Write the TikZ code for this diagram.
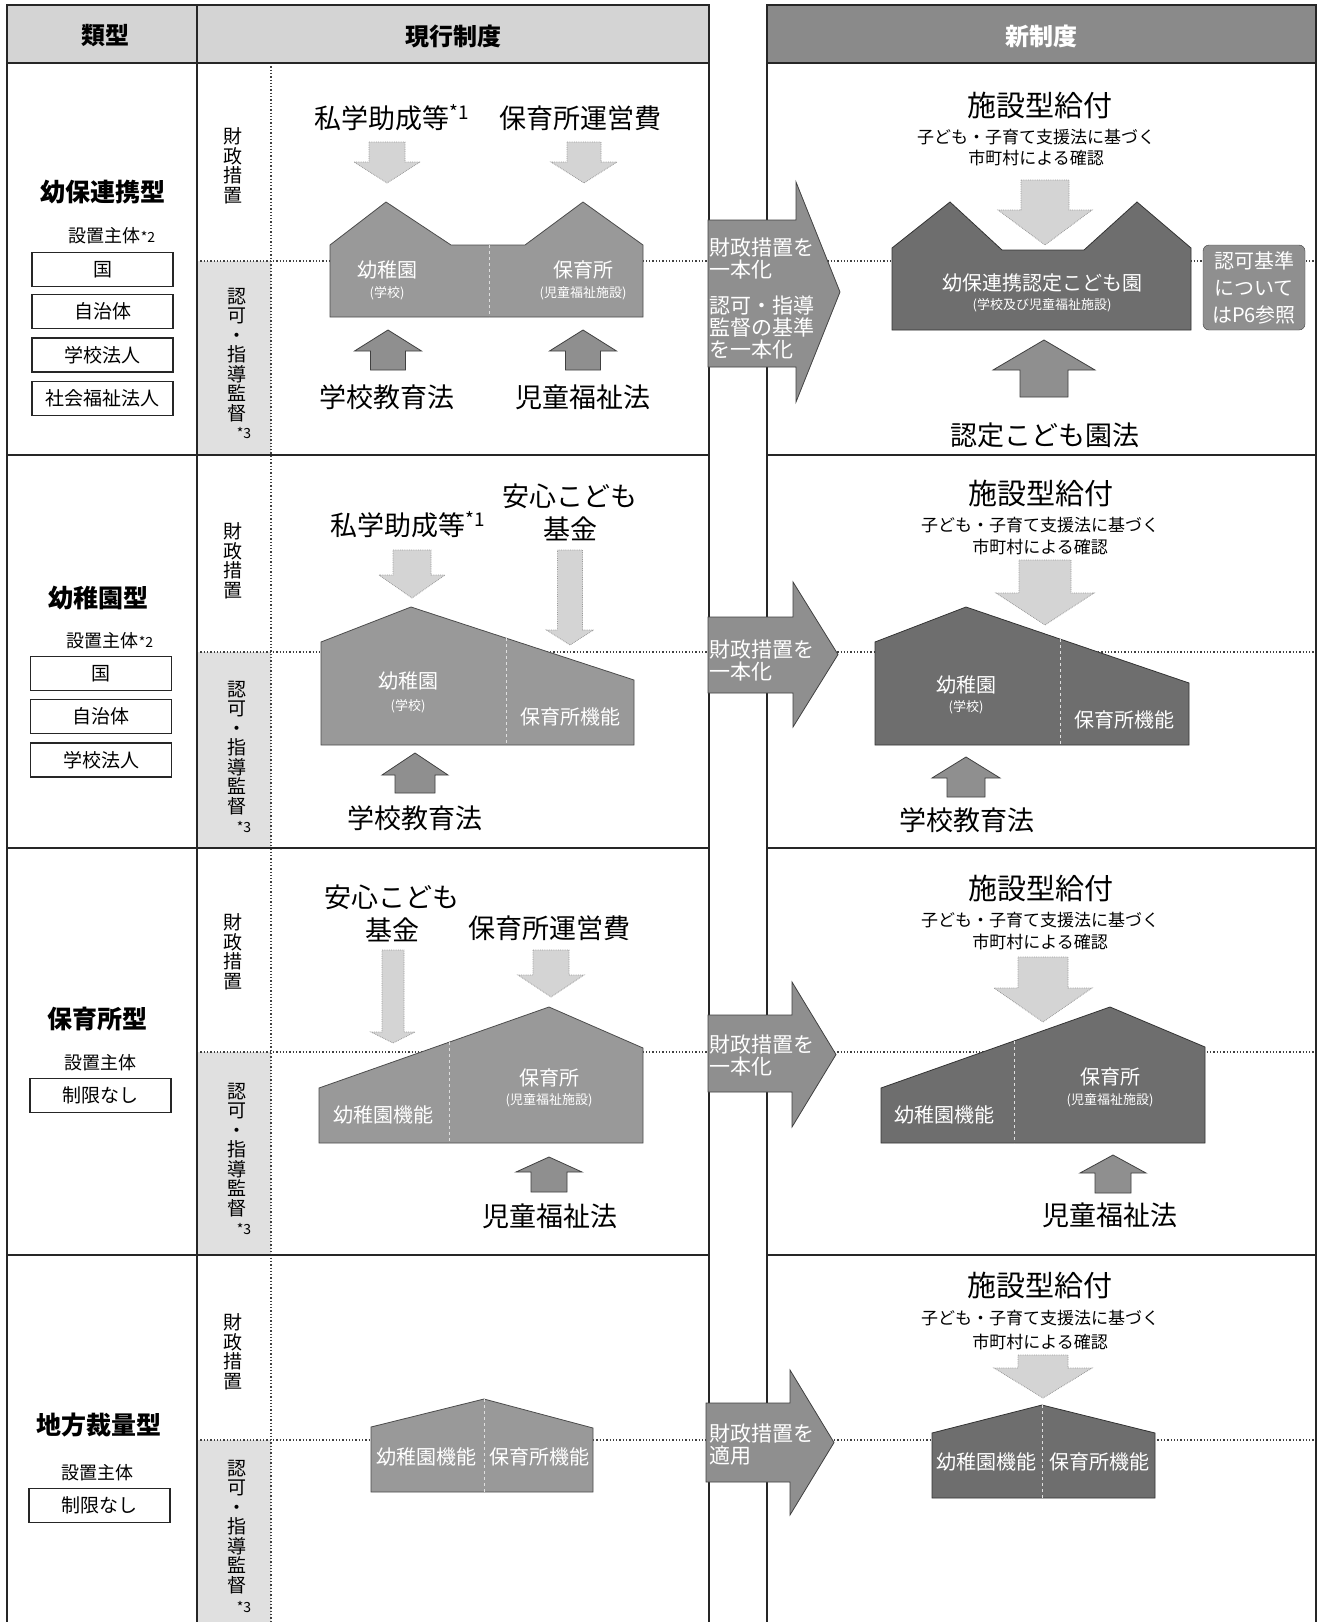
\documentclass[tikz,border=0pt]{standalone}
\usepackage{fontspec}
\setmainfont{Noto Sans CJK JP}
\newcommand{\VArr}[7]{\draw[#1] (#2-#6,#3) -- (#2+#6,#3) -- (#2+#6,#4) -- (#2+#7,#4) -- (#2,#5) -- (#2-#7,#4) -- (#2-#6,#4) -- cycle;}
\newcommand{\HArr}[8]{\draw[#1] (#2,#3) -- (#5,#3) -- (#5,#6) -- (#8,{(#6+#7)/2}) -- (#5,#7) -- (#5,#4) -- (#2,#4) -- cycle;}
\begin{document}
\begin{tikzpicture}[x=1pt,y=-1pt,
  xframe/.style={draw=black!85, line width=1.6},
  xsep/.style={draw=black!75, dotted, line width=1.3},
  curhouse/.style={fill=black!40, draw=black!70, line width=0.8},
  newhouse/.style={fill=black!57, draw=black!80, line width=0.8},
  xdiv/.style={draw=white!75!gray, dashed, line width=1},
  darr/.style={fill=black!17, draw=black!40, densely dotted, line width=0.8},
  uarr/.style={fill=black!44, draw=black!75, line width=0.8},
  rarr/.style={fill=black!44, draw=black!75, line width=0.8},
  xhdr/.style={font=\bfseries\fontsize{24}{28}\selectfont},
  xtype/.style={font=\bfseries\fontsize{25}{29}\selectfont},
  xsub/.style={font=\fontsize{18}{22}\selectfont},
  xent/.style={draw=black!85, line width=1.3, minimum width=141, minimum height=34, inner sep=0, font=\fontsize{19}{22}\selectfont},
  xvert/.style={align=center, inner sep=0, font=\fontsize{19}{19.5}\selectfont},
  xstar/.style={inner sep=0, font=\fontsize{14}{16}\selectfont},
  xbig/.style={inner sep=0, align=center, font=\fontsize{27}{33}\selectfont},
  xbene/.style={inner sep=0, font=\fontsize{29}{33}\selectfont},
  xnote/.style={inner sep=0, font=\fontsize{17}{20}\selectfont},
  hlab/.style={inner sep=0, text=white, font=\fontsize{20}{22}\selectfont},
  hsm/.style={inner sep=0, text=white, font=\fontsize{13}{15}\selectfont},
  alab/.style={inner sep=0, anchor=west, align=left, text=white, font=\fontsize{21}{22}\selectfont}
]
\useasboundingbox (0,0) rectangle (1318,1622);
\fill[white] (0,0) rectangle (1318,1622);
% header fills
\fill[black!17] (7,5) rectangle (709,63);
\fill[black!46] (767,5) rectangle (1316,63);
% ninka cells
\foreach \a/\b in {261/455,652/848,1052/1255,1440/1622} \fill[black!12] (197,\a) rectangle (271,\b);
% dotted separators
\foreach \y in {261,652,1052,1440} \draw[xsep] (197,\y) -- (1316,\y);
\draw[xsep] (271,63) -- (271,1622);
% frames
\draw[xframe] (7,1622) -- (7,5) -- (709,5) -- (709,1622);
\draw[xframe] (767,1622) -- (767,5) -- (1316,5) -- (1316,1622);
\draw[xframe] (197,5) -- (197,1622);
\foreach \y in {63,455,848,1255} {\draw[xframe] (7,\y) -- (709,\y); \draw[xframe] (767,\y) -- (1316,\y);}

% headers
\node[xhdr] (h1) at (105,36) {類型};
\node[xhdr] (h2) at (453,36) {現行制度};
\node[xhdr, text=white] (h3) at (1041,36) {新制度};

% ===== left column =====
\node[xtype] (t1) at (103,192) {幼保連携型};
\node[xsub] (s1) at (112,236) {設置主体{\fontsize{14}{16}\selectfont *2}};
\node[xent] (e11) at (102.5,269.5) {国};
\node[xent] (e12) at (102.5,311.5) {自治体};
\node[xent] (e13) at (102.5,355) {学校法人};
\node[xent] (e14) at (102.5,398.5) {社会福祉法人};

\node[xtype] (t2) at (98,598) {幼稚園型};
\node[xsub] (s2) at (110,641) {設置主体{\fontsize{14}{16}\selectfont *2}};
\node[xent] (e21) at (101,673.5) {国};
\node[xent] (e22) at (101,716.5) {自治体};
\node[xent] (e23) at (101,760) {学校法人};

\node[xtype] (t3) at (97,1019) {保育所型};
\node[xsub] (s3) at (100,1063) {設置主体};
\node[xent] (e31) at (100.5,1095.5) {制限なし};

\node[xtype] (t4) at (99,1425) {地方裁量型};
\node[xsub] (s4) at (97,1473) {設置主体};
\node[xent] (e41) at (99.5,1505.5) {制限なし};

% vertical labels
\node[xvert] (f1) at (233,166) {財\\政\\措\\置};
\node[xvert] (n1) at (237,355) {認\\可\\・\\指\\導\\監\\督};
\node[xstar] (k1) at (244,433) {*3};
\node[xvert] (f2) at (233,561) {財\\政\\措\\置};
\node[xvert] (n2) at (237,748) {認\\可\\・\\指\\導\\監\\督};
\node[xstar] (k2) at (244,827) {*3};
\node[xvert] (f3) at (233,952) {財\\政\\措\\置};
\node[xvert] (n3) at (237,1150) {認\\可\\・\\指\\導\\監\\督};
\node[xstar] (k3) at (244,1229) {*3};
\node[xvert] (f4) at (233,1352) {財\\政\\措\\置};
\node[xvert] (n4) at (237,1527) {認\\可\\・\\指\\導\\監\\督};
\node[xstar] (k4) at (244,1607) {*3};

% ===== row 1 current =====
\node[xbig] (r1a) at (392,118) {私学助成等\textsuperscript{*1}};
\node[xbig] (r1b) at (580,118) {保育所運営費};
\VArr{darr}{387}{142}{162}{183}{18}{33}
\VArr{darr}{584}{142}{162}{183}{17}{33}
\draw[curhouse] (330,317) -- (330,245) -- (386,202) -- (451,245) -- (525,245) -- (583,202) -- (643,245) -- (643,317) -- cycle;
\draw[xdiv] (489,245) -- (489,317);
\node[hlab] (r1h1) at (387,270) {幼稚園};
\node[hsm] (r1h2) at (387,293) {(学校)};
\node[hlab] (r1h3) at (583,270) {保育所};
\node[hsm] (r1h4) at (583,293) {(児童福祉施設)};
\VArr{uarr}{388}{370}{351}{330}{17.5}{33.5}
\VArr{uarr}{583}{370}{351}{330}{17.5}{33.5}
\node[xbig] (r1c) at (387,397) {学校教育法};
\node[xbig] (r1d) at (583,397) {児童福祉法};

% ===== row 1 arrow + new =====
\HArr{rarr}{708}{220}{367}{796}{182}{402}{840}
\node[alab] (a1a) at (709,259) {財政措置を\\一本化};
\node[alab] (a1b) at (709,327) {認可・指導\\監督の基準\\を一本化};
\node[xbene] (b1) at (1040,105) {施設型給付};
\node[xnote] (b1a) at (1036,137) {子ども・子育て支援法に基づく};
\node[xnote] (b1b) at (1036,158) {市町村による確認};
\VArr{darr}{1045}{180}{210}{245}{24}{47}
\draw[newhouse] (892,330) -- (892,248) -- (950,202) -- (1002,250) -- (1084,250) -- (1137,202) -- (1191,248) -- (1191,330) -- cycle;
\node[hlab] (r1n1) at (1042,283) {幼保連携認定こども園};
\node[hsm] (r1n2) at (1042,305) {(学校及び児童福祉施設)};
\node[draw=black!75, fill=black!44, rounded corners=6, minimum width=102, minimum height=85, inner sep=0, align=center, text=white, font=\fontsize{20}{27}\selectfont] (kb) at (1254,287.5) {認可基準\\について\\はP6参照};
\VArr{uarr}{1044}{397}{370}{340}{24}{51}
\node[xbig] (r1e) at (1045,435) {認定こども園法};

% ===== row 2 current =====
\node[xbig] (r2a) at (408,525) {私学助成等\textsuperscript{*1}};
\node[xbig] (r2b) at (570,512) {安心こども\\基金};
\VArr{darr}{412}{550}{575}{598}{19}{33}
\VArr{darr}{570}{550}{630}{645}{12.5}{23.5}
\draw[curhouse] (321,745) -- (321,642) -- (411,607) -- (634,680) -- (634,745) -- cycle;
\draw[xdiv] (506,638) -- (506,745);
\node[hlab] (r2h1) at (408,681) {幼稚園};
\node[hsm] (r2h2) at (408,706) {(学校)};
\node[hlab] (r2h3) at (570,717) {保育所機能};
\VArr{uarr}{415}{793}{775}{753}{20}{33}
\node[xbig] (r2c) at (415,818) {学校教育法};

% ===== row 2 arrow + new =====
\HArr{rarr}{708}{617}{693}{793}{582}{727}{838}
\node[alab] (a2a) at (709,661) {財政措置を\\一本化};
\node[xbene] (b2) at (1041,493) {施設型給付};
\node[xnote] (b2a) at (1040,525) {子ども・子育て支援法に基づく};
\node[xnote] (b2b) at (1040,547) {市町村による確認};
\VArr{darr}{1045}{560}{593}{625}{26}{49}
\draw[newhouse] (875,745) -- (875,642) -- (966,607) -- (1189,683) -- (1189,745) -- cycle;
\draw[xdiv] (1060,639) -- (1060,745);
\node[hlab] (r2n1) at (966,685) {幼稚園};
\node[hsm] (r2n2) at (966,707) {(学校)};
\node[hlab] (r2n3) at (1124,720) {保育所機能};
\VArr{uarr}{966}{797}{778}{757}{19}{34}
\node[xbig] (r2e) at (967,820) {学校教育法};

% ===== row 3 current =====
\node[xbig] (r3a) at (392,913) {安心こども\\基金};
\node[xbig] (r3b) at (549,928) {保育所運営費};
\VArr{darr}{393}{950}{1032}{1043}{11}{22}
\VArr{darr}{551}{950}{975}{997}{18}{33}
\draw[curhouse] (319,1143) -- (319,1088) -- (549,1007) -- (643,1048) -- (643,1143) -- cycle;
\draw[xdiv] (449,1042) -- (449,1143);
\node[hlab] (r3h1) at (383,1115) {幼稚園機能};
\node[hlab] (r3h2) at (549,1078) {保育所};
\node[hsm] (r3h3) at (549,1100) {(児童福祉施設)};
\VArr{uarr}{549}{1192}{1172}{1157}{18}{33}
\node[xbig] (r3c) at (550,1216) {児童福祉法};

% ===== row 3 arrow + new =====
\HArr{rarr}{708}{1015}{1092}{792}{982}{1127}{836}
\node[alab] (a3a) at (709,1056) {財政措置を\\一本化};
\node[xbene] (b3) at (1041,888) {施設型給付};
\node[xnote] (b3a) at (1040,920) {子ども・子育て支援法に基づく};
\node[xnote] (b3b) at (1040,942) {市町村による確認};
\VArr{darr}{1043}{957}{988}{1022}{25}{49}
\draw[newhouse] (881,1143) -- (881,1088) -- (1110,1007) -- (1205,1047) -- (1205,1143) -- cycle;
\draw[xdiv] (1014,1041) -- (1014,1143);
\node[hlab] (r3n1) at (944,1115) {幼稚園機能};
\node[hlab] (r3n2) at (1110,1077) {保育所};
\node[hsm] (r3n3) at (1110,1100) {(児童福祉施設)};
\VArr{uarr}{1113}{1193}{1173}{1155}{18}{33}
\node[xbig] (r3e) at (1110,1215) {児童福祉法};

% ===== row 4 current =====
\draw[curhouse] (371,1492) -- (371,1427) -- (484,1399) -- (593,1428) -- (593,1492) -- cycle;
\draw[xdiv] (484,1399) -- (484,1492);
\node[hlab] (r4h1) at (426,1457) {幼稚園機能};
\node[hlab] (r4h2) at (539,1457) {保育所機能};

% ===== row 4 arrow + new =====
\HArr{rarr}{706}{1403}{1482}{790}{1370}{1515}{834}
\node[alab] (a4a) at (709,1445) {財政措置を\\適用};
\node[xbene] (b4) at (1040,1285) {施設型給付};
\node[xnote] (b4a) at (1040,1318) {子ども・子育て支援法に基づく};
\node[xnote] (b4b) at (1040,1342) {市町村による確認};
\VArr{darr}{1043}{1355}{1368}{1398}{25}{49}
\draw[newhouse] (932,1498) -- (932,1433) -- (1042,1405) -- (1155,1433) -- (1155,1498) -- cycle;
\draw[xdiv] (1042,1405) -- (1042,1498);
\node[hlab] (r4n1) at (986,1462) {幼稚園機能};
\node[hlab] (r4n2) at (1099,1462) {保育所機能};
\end{tikzpicture}
\end{document}
